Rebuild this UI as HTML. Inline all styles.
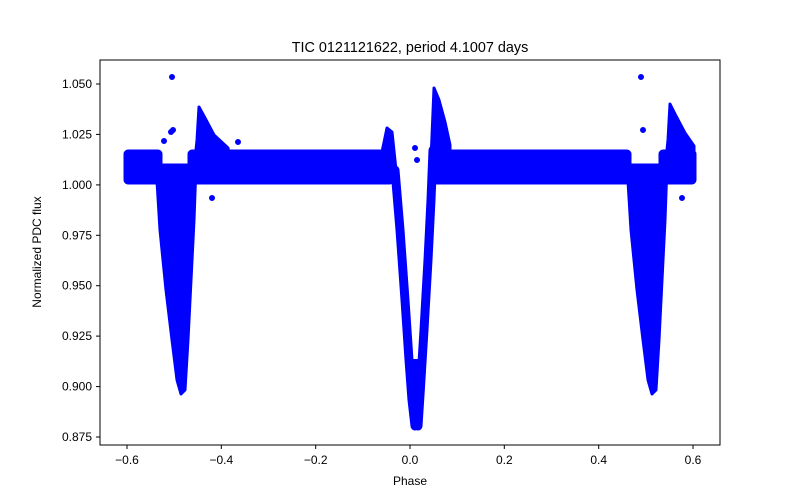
<!DOCTYPE html><html><head><style>body{margin:0;background:#fff}svg{display:block}text{font-family:"Liberation Sans","DejaVu Sans",sans-serif;fill:#000}</style></head><body>
<svg width="800" height="500" xmlns="http://www.w3.org/2000/svg">
<rect width="800" height="500" fill="#fff"/>
<g fill="#0000ff" stroke="#0000ff" stroke-linejoin="round" stroke-linecap="round">
<rect x="125" y="151" width="36" height="32" rx="3" stroke-width="3"/>
<rect x="189" y="151" width="204" height="32" rx="3" stroke-width="3"/>
<rect x="433" y="151" width="197" height="32" rx="3" stroke-width="3"/>
<rect x="660" y="151" width="35" height="32" rx="3" stroke-width="3"/>
<polygon stroke-width="3" points="156,165 160,230 166,290 172,340 177,380 181,394 185,390 188,340 191,280 194,220 196,165"/>
<polygon stroke-width="3" points="194,170 197,140 199,107 205,118 214,135 228,148 230,160 200,165"/>
<polygon stroke-width="3" points="627,165 631,230 637,290 643,340 648,380 652,394 656,390 659,340 662,280 665,220 667,165"/>
<polygon stroke-width="3" points="665,170 668,140 670,104 676,116 685,133 694,146 694,160 671,165"/>
<polyline fill="none" stroke-width="9" points="395,170 400,230 405,300 409,360 412,400 415,426"/>
<polyline fill="none" stroke-width="9" points="418,426 420,395 424,330 428,260 431,200 433,150"/>
<polygon stroke-width="3" points="431,160 434,88 439,100 445,122 450,145 450,165"/>
<polygon stroke-width="3" points="382,152 387,128 392,132 396,170 382,170"/>
<polygon stroke-width="2" points="409,360 419,360 417,420 413,420"/>
<circle cx="172" cy="77" r="2.5"/><circle cx="171" cy="132" r="2.5"/><circle cx="173" cy="130" r="2.5"/><circle cx="164" cy="141" r="2.5"/>
<circle cx="641" cy="77" r="2.5"/><circle cx="643" cy="130" r="2.5"/><circle cx="238" cy="142" r="2.5"/>
<circle cx="212" cy="198" r="2.5"/><circle cx="682" cy="198" r="2.5"/><circle cx="415" cy="148" r="2.5"/><circle cx="417" cy="160" r="2.5"/>
</g>
<rect x="100" y="60" width="620" height="385" fill="none" stroke="#000" stroke-width="1"/>
<g stroke="#000" stroke-width="1">
<line x1="127" y1="445" x2="127" y2="449"/><line x1="221.3" y1="445" x2="221.3" y2="449"/><line x1="315.7" y1="445" x2="315.7" y2="449"/><line x1="410" y1="445" x2="410" y2="449"/><line x1="504.3" y1="445" x2="504.3" y2="449"/><line x1="598.7" y1="445" x2="598.7" y2="449"/><line x1="693" y1="445" x2="693" y2="449"/>
<line x1="96" y1="84" x2="100" y2="84"/><line x1="96" y1="134.4" x2="100" y2="134.4"/><line x1="96" y1="184.9" x2="100" y2="184.9"/><line x1="96" y1="235.3" x2="100" y2="235.3"/><line x1="96" y1="285.7" x2="100" y2="285.7"/><line x1="96" y1="336.1" x2="100" y2="336.1"/><line x1="96" y1="386.6" x2="100" y2="386.6"/><line x1="96" y1="437" x2="100" y2="437"/>
</g>
<g font-size="12" text-anchor="middle">
<text x="127" y="464">−0.6</text><text x="221.3" y="464">−0.4</text><text x="315.7" y="464">−0.2</text><text x="410" y="464">0.0</text><text x="504.3" y="464">0.2</text><text x="598.7" y="464">0.4</text><text x="693" y="464">0.6</text>
<text x="410" y="485">Phase</text>
</g>
<g font-size="12" text-anchor="end">
<text x="92" y="88">1.050</text><text x="92" y="138.4">1.025</text><text x="92" y="188.9">1.000</text><text x="92" y="239.3">0.975</text><text x="92" y="289.7">0.950</text><text x="92" y="340.1">0.925</text><text x="92" y="390.6">0.900</text><text x="92" y="441">0.875</text>
</g>
<text x="41" y="252" font-size="12" text-anchor="middle" transform="rotate(-90 41 252)">Normalized PDC flux</text>
<text x="410" y="52" font-size="14.4" text-anchor="middle">TIC 0121121622, period 4.1007 days</text>
</svg>
</body></html>
